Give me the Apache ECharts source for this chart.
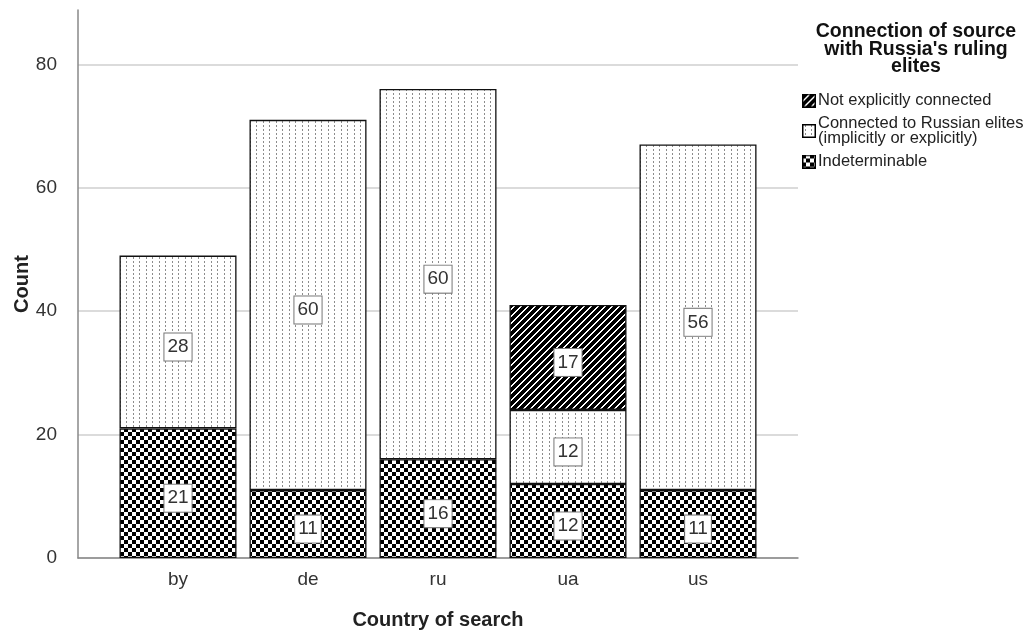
<!DOCTYPE html>
<html><head><meta charset="utf-8">
<script src="https://cdn.jsdelivr.net/npm/echarts@6/dist/echarts.min.js"></script>
<style>html,body{margin:0;padding:0;background:#fff}#c{width:1029px;height:631px}</style>
</head><body><div id="c"></div>
<script>
const categories = ['by', 'de', 'ru', 'ua', 'us'];
const indeterminable = [21, 11, 16, 12, 11];
const connected = [28, 60, 60, 12, 56];
const notConnected = [null, null, null, 17, null];
const seriesNames = ['Indeterminable', 'Connected to Russian elites (implicitly or explicitly)', 'Not explicitly connected'];
const legendOrder = ['Not explicitly connected', 'Connected to Russian elites (implicitly or explicitly)', 'Indeterminable'];
const yTicks = [0, 20, 40, 60, 80];

const FONT = '"Liberation Sans", Arial, sans-serif';

function tile(w, h, draw) {
  const c = document.createElement('canvas');
  c.width = w; c.height = h;
  const g = c.getContext('2d');
  draw(g, w, h);
  return c;
}
const stripeTile = tile(7, 7, (g, w, h) => {
  g.fillStyle = '#000'; g.fillRect(0, 0, w, h);
  g.fillStyle = '#fff';
  for (let y = 0; y < h; y++) for (let x = 0; x < w; x++) {
    const m = (x + y) % 7;
    if (m === 0 || m === 1) g.fillRect(x, y, 1, 1);
  }
});
const checkTile = tile(8, 8, (g) => {
  g.fillStyle = '#fff'; g.fillRect(0, 0, 8, 8);
  g.fillStyle = '#000'; g.fillRect(0, 0, 4, 4); g.fillRect(4, 4, 4, 4);
});
const dotTile = tile(13, 4, (g) => {
  g.fillStyle = '#fff'; g.fillRect(0, 0, 13, 4);
  g.fillStyle = '#8c8c8c'; g.fillRect(3, 1, 1, 2); g.fillRect(9, 1, 1, 2);
});
function iconURL(t) {
  const c = tile(14, 14, (g) => {
    g.fillStyle = g.createPattern(t, 'repeat'); g.fillRect(0, 0, 14, 14);
    g.strokeStyle = '#000'; g.lineWidth = 1.5; g.strokeRect(0.75, 0.75, 12.5, 12.5);
  });
  return 'image://' + c.toDataURL();
}
const patterns = [checkTile, dotTile, stripeTile];
const seriesData = [indeterminable, connected, notConnected];

const labelStyle = {
  show: true, position: 'inside', offset: [0, 5], color: '#333', fontSize: 19, fontFamily: FONT,
  backgroundColor: '#fff', borderColor: '#777', borderWidth: 1, padding: [5, 3, 3, 3]
};

const chart = echarts.init(document.getElementById('c'), null, {renderer: 'canvas'});
chart.setOption({
  animation: false,
  backgroundColor: '#fff',
  textStyle: {fontFamily: FONT},
  grid: [
    {left: 78, right: 231, top: 10, bottom: 73, containLabel: false, outerBoundsMode: 'none'},
    {left: 113, right: 266, top: 10, bottom: 73, containLabel: false, outerBoundsMode: 'none'}
  ],
  xAxis: [
    {gridIndex: 0, type: 'value', min: 0, max: 1, axisLabel: {show: false}, axisTick: {show: false},
     splitLine: {show: false}, axisLine: {show: true, onZero: false, lineStyle: {color: '#888', width: 1.5}}},
    {gridIndex: 1, type: 'category', data: categories, axisLine: {show: false}, axisTick: {show: false},
     axisLabel: {fontSize: 19, color: '#333', margin: 12, fontFamily: FONT},
     name: 'Country of search', nameLocation: 'middle', nameGap: 52,
     nameTextStyle: {fontSize: 20, fontWeight: 'bold', color: '#222', fontFamily: FONT}}
  ],
  yAxis: [
    {gridIndex: 0, type: 'value', min: 0, max: 88.8, interval: 20,
     axisLabel: {fontSize: 19, color: '#333', margin: 21, fontFamily: FONT,
       formatter: v => yTicks.includes(v) ? String(v) : ''},
     axisLine: {show: true, lineStyle: {color: '#888', width: 1.5}}, axisTick: {show: false},
     splitLine: {show: true, showMaxLine: false, lineStyle: {color: '#cfcfcf', width: 1.5}},
     name: 'Count', nameLocation: 'middle', nameGap: 46, nameRotate: 90, nameMoveOverlap: false,
     nameTextStyle: {fontSize: 20, fontWeight: 'bold', color: '#222', fontFamily: FONT}},
    {gridIndex: 1, type: 'value', min: 0, max: 88.8, interval: 20, show: false, splitLine: {show: false}}
  ],
  legend: {
    orient: 'vertical', left: 797, top: 87, itemWidth: 14, itemHeight: 14, itemGap: 6,
    data: legendOrder.map((n) => ({name: n, icon: iconURL(patterns[seriesNames.indexOf(n)])})),
    formatter: n => n === seriesNames[1] ? 'Connected to Russian elites\n(implicitly or explicitly)' : n,
    textStyle: {fontSize: 16.5, color: '#222', lineHeight: 15, fontFamily: FONT, padding: [0, 0, 0, -3]}
  },
  graphic: [{
    type: 'text', left: 916 - 130, top: 22,
    style: {text: 'Connection of source\nwith Russia\'s ruling\nelites', x: 0, y: 0,
      width: 260, align: 'center', textAlign: 'center', fontSize: 19.5, fontWeight: 'bold',
      lineHeight: 17.5, fill: '#111', fontFamily: FONT},
    z: 100
  }],
  series: seriesNames.map((name, i) => ({
    name, type: 'bar', stack: 'total', xAxisIndex: 1, yAxisIndex: 1, barWidth: '90%',
    data: seriesData[i],
    itemStyle: {color: {image: patterns[i], repeat: 'repeat'}, borderColor: '#111', borderWidth: 1.3},
    label: labelStyle,
    emphasis: {disabled: true}
  }))
});
</script></body></html>
